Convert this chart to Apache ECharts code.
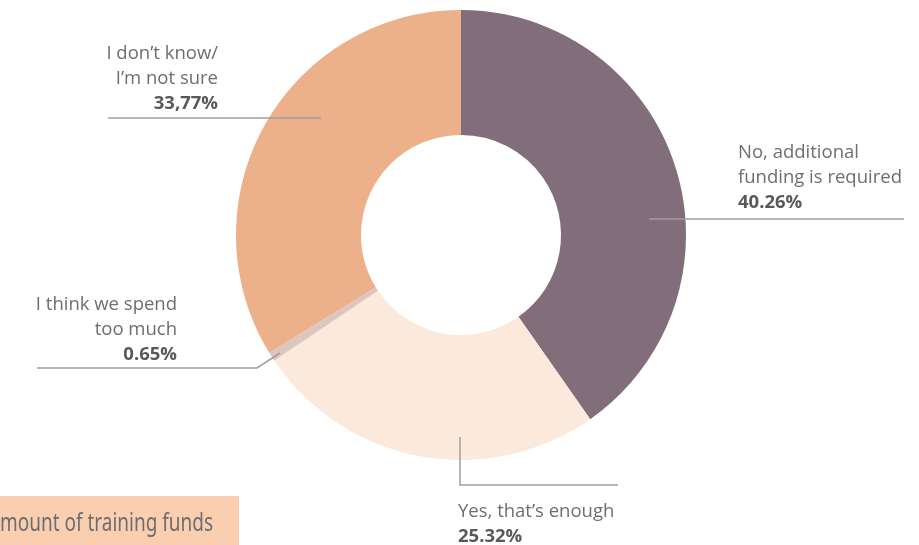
<!DOCTYPE html>
<html>
<head>
<meta charset="utf-8">
<script src="https://cdn.jsdelivr.net/npm/echarts@6/dist/echarts.min.js"></script>
<style>
  html, body { margin: 0; padding: 0; background: #ffffff; }
  #chart { width: 919px; height: 545px; }
</style>
</head>
<body>
<div id="chart"></div>
<script>
// Answers, in clockwise order from 12 o'clock
const categories = [
  'No, additional\nfunding is required',
  'Yes, that’s enough',
  'I think we spend\ntoo much',
  'I don’t know/\nI’m not sure'
];
const shares = [40.26, 25.32, 0.65, 33.77];
const decimalMarks = ['.', '.', '.', ','];
const sliceColors = ['#826d7a', '#fbe9dc', '#ddc6c0', '#ecb08b'];
const captionText = 'mount of training funds';

// Where each label block sits and how its leader line runs
const labelPlacement = [
  { x: 738, y: 140, align: 'left',  line: [[649, 219], [904, 219]] },
  { x: 458, y: 499, align: 'left',  line: [[460, 437], [460, 485], [618, 485]] },
  { x: 177, y: 292, align: 'right', line: [[280, 353], [257, 368], [37, 368]] },
  { x: 218, y: 41,  align: 'right', line: [[321, 118], [108, 118]] }
];

const seriesData = categories.map((name, i) => ({
  name: name,
  value: shares[i],
  itemStyle: { color: sliceColors[i] }
}));

// Caption squeezed horizontally to a condensed look
const captionFont = '26px "Noto Sans", sans-serif';
const captionWidth = 213;
const measureCtx = document.createElement('canvas').getContext('2d');
measureCtx.font = captionFont;
const captionScale = captionWidth / measureCtx.measureText(captionText).width;

// Leader lines, drawn above the ring
const leaderLines = labelPlacement.map(p => ({
  type: 'polyline',
  z: 50,
  silent: true,
  shape: { points: p.line },
  style: { stroke: '#9d9fa2', lineWidth: 1.5, fill: null }
}));

const labelFont = '"Open Sans", "Noto Sans", sans-serif';

const chart = echarts.init(document.getElementById('chart'), null, { renderer: 'canvas' });

chart.setOption({
  animation: false,
  backgroundColor: '#ffffff',
  graphic: [
    {
      type: 'rect',
      shape: { x: 0, y: 496, width: 239, height: 49 },
      style: { fill: '#f9cfb0' },
      silent: true
    },
    {
      type: 'text',
      x: 0,
      y: 524,
      scaleX: captionScale,
      style: {
        text: captionText,
        fill: '#6d6e71',
        font: captionFont,
        verticalAlign: 'middle',
        align: 'left'
      },
      silent: true
    }
  ].concat(leaderLines),
  series: [
    {
      type: 'pie',
      center: [461, 235],
      radius: [100, 225],
      startAngle: 90,
      clockwise: true,
      avoidLabelOverlap: false,
      silent: true,
      emphasis: { disabled: true },
      itemStyle: { borderWidth: 0 },
      data: seriesData,
      label: {
        show: true,
        position: 'outside',
        fontFamily: labelFont,
        formatter: function (p) {
          const lines = p.name.split('\n').map(s => '{n|' + s + '}');
          const v = p.value.toFixed(2).replace('.', decimalMarks[p.dataIndex]) + '%';
          return lines.join('\n') + '\n{v|' + v + '}';
        },
        rich: {
          n: { fontSize: 18.5, lineHeight: 25, color: '#6d6e71', fontFamily: labelFont },
          v: { fontSize: 18.5, lineHeight: 25, color: '#58595b', fontWeight: 'bold', fontFamily: labelFont }
        }
      },
      labelLine: { show: false },
      labelLayout: function (params) {
        const p = labelPlacement[params.dataIndex];
        return {
          x: p.x,
          y: p.y,
          align: p.align,
          verticalAlign: 'top'
        };
      }
    }
  ]
});
</script>
</body>
</html>
